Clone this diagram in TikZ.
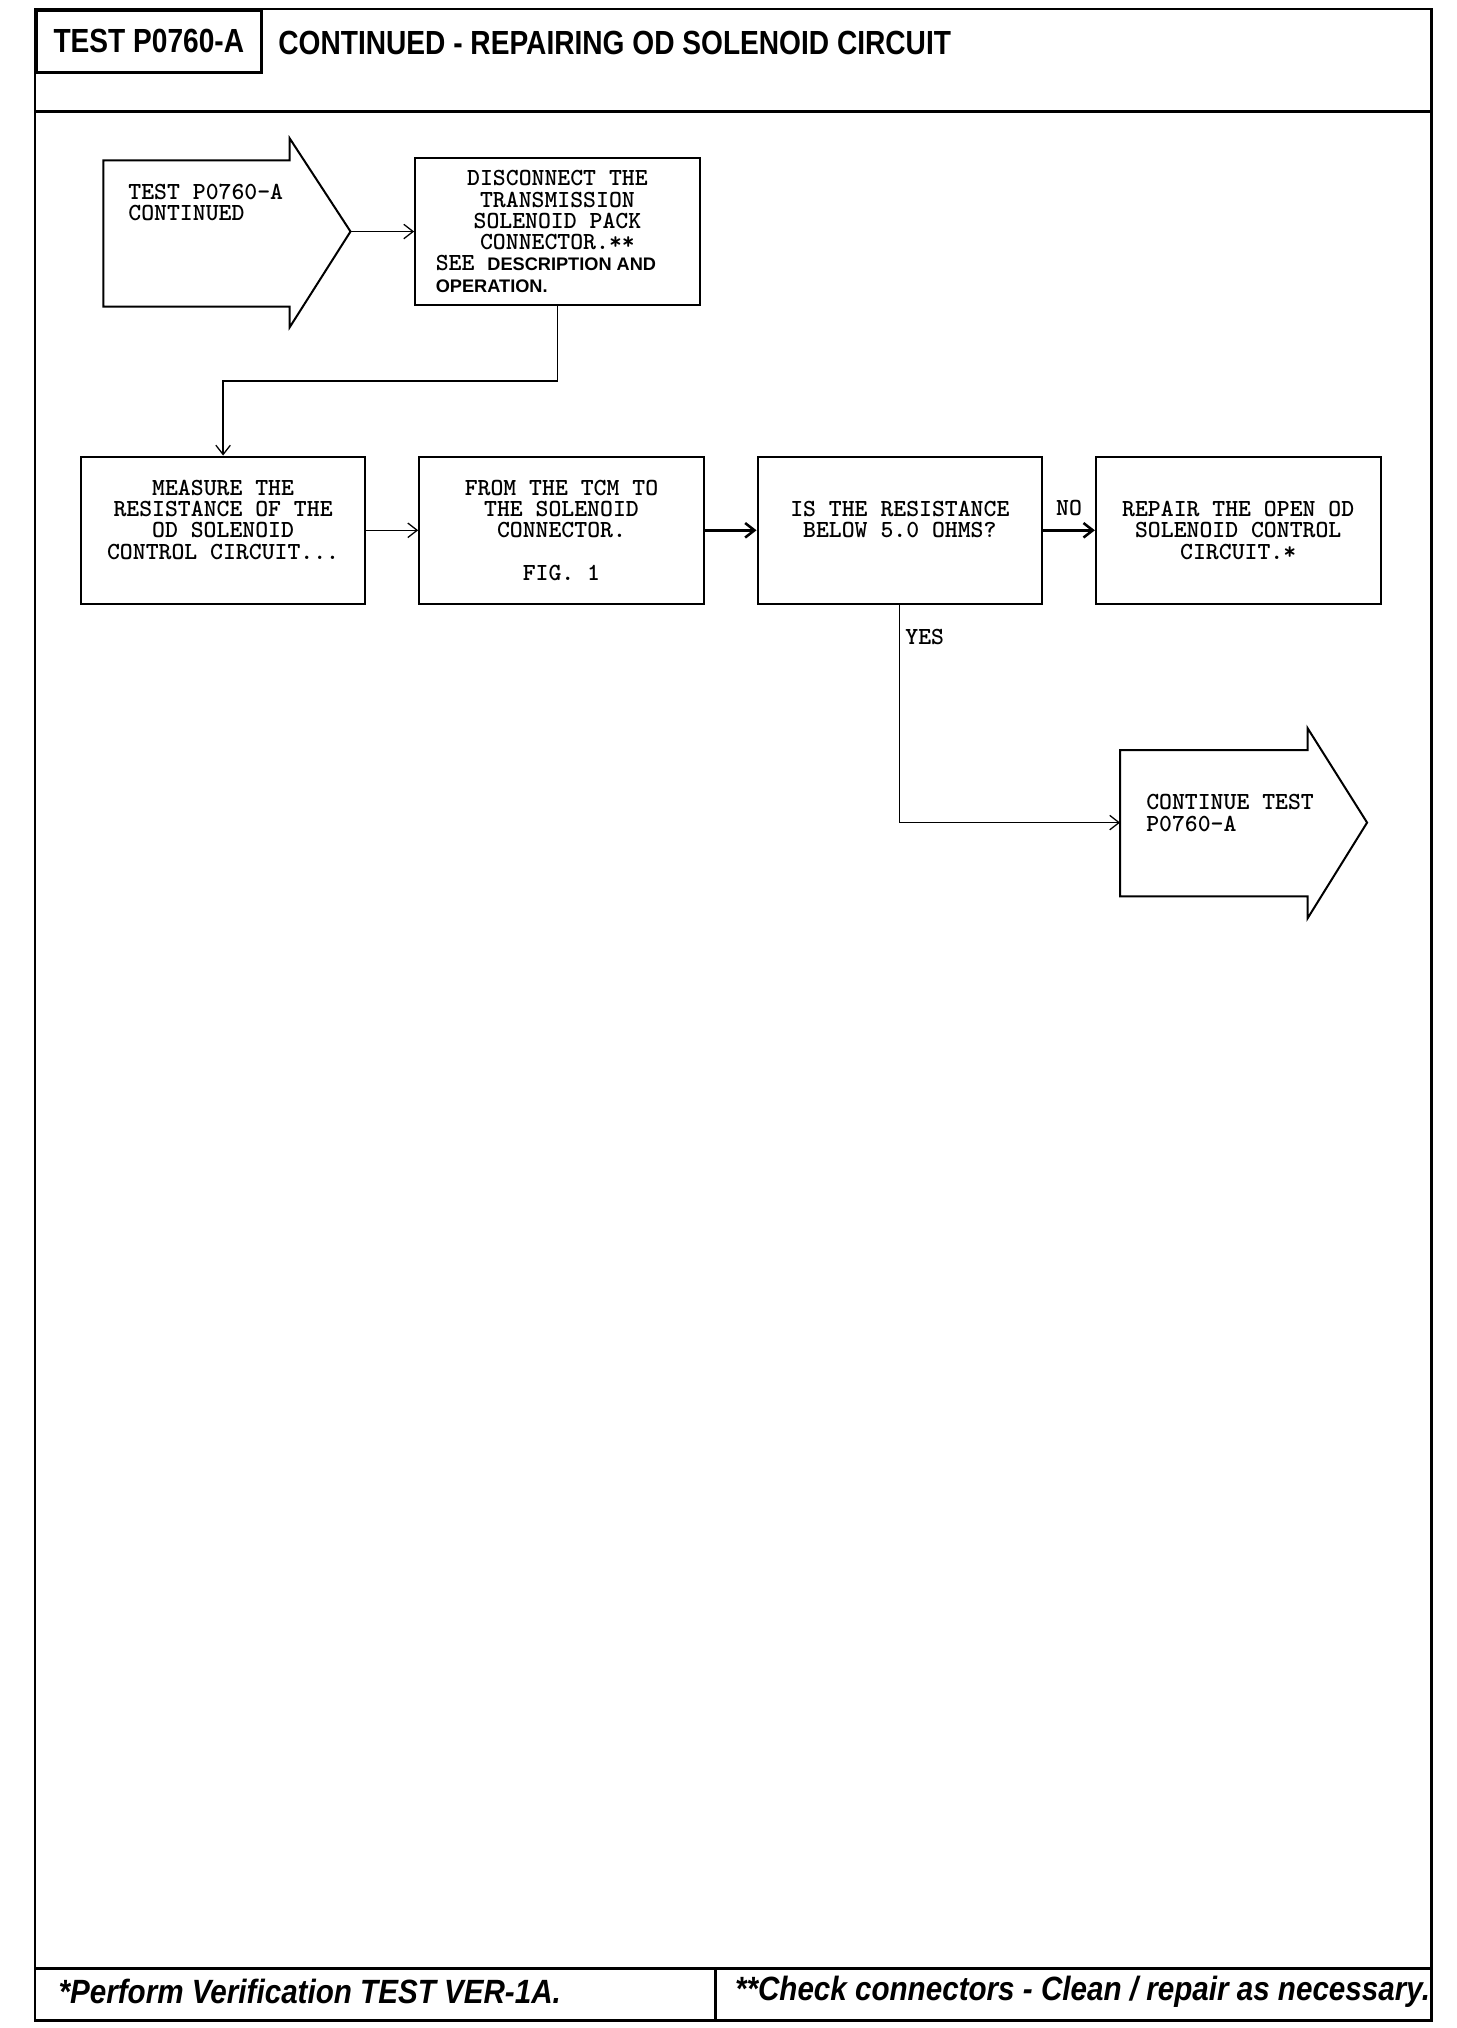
\documentclass[tikz,border=0pt]{standalone}
\usepackage{fontspec}
\newfontfamily\headfont[FakeStretch=0.84]{Liberation Sans}
\newfontfamily\footfont[FakeStretch=0.88]{Liberation Sans}
\newfontfamily\notefont{Liberation Sans}
\usepackage{tikz}
\usetikzlibrary{arrows.meta, positioning, calc}
\usepackage{xcolor}
\definecolor{ChartBlack}{HTML}{000000}
\definecolor{ChartWhite}{HTML}{ffffff}
\tikzset{
    % Page frame lines
    frame/.style={
        draw=ChartBlack,
        line width=1.5pt
    },
    % Title box style
    titlebox/.style={
        rectangle,
        draw=ChartBlack,
        line width=1.5pt,
        inner sep=0pt,
        font=\headfont\bfseries\fontsize{18.4}{20}\selectfont
    },
    % Heading text
    heading/.style={
        inner sep=0pt,
        font=\headfont\bfseries\fontsize{18.4}{20}\selectfont
    },
    % Footer note text
    footnote/.style={
        inner sep=0pt,
        font=\footfont\bfseries\itshape\fontsize{18.5}{20}\selectfont
    },
    % Step box style
    stepbox/.style={
        rectangle,
        draw=ChartBlack,
        fill=ChartWhite,
        line width=1.1pt,
        minimum width=5.5cm,
        minimum height=2.85cm,
        inner sep=0pt,
        align=center,
        font=\ttfamily\bfseries\fontsize{13.5}{11.7}\selectfont
    },
    % Arrow shaped start/continue outline
    arrowshape/.style={
        draw=ChartBlack,
        line width=1.1pt,
        line join=miter
    },
    % Plain text in arrow shapes
    steptext/.style={
        inner sep=0pt,
        align=left,
        font=\ttfamily\bfseries\fontsize{13.5}{11.7}\selectfont
    },
    % Yes/No labels
    answer/.style={
        inner sep=0pt,
        font=\ttfamily\bfseries\fontsize{13.5}{11.7}\selectfont
    },
    % Arrow style
    arrow/.style={
        -{Straight Barb[length=1.8mm,width=2.8mm]},
        line width=0.7pt,
        color=ChartBlack
    },
    % Heavier arrow
    heavyarrow/.style={
        arrow,
        line width=1.4pt
    }
}
\newcommand{\sansnote}{\notefont\bfseries\fontsize{10}{11.7}\selectfont}

\begin{document}
\begin{tikzpicture}[x=0.025cm, y=-0.025cm, node distance=1cm]
    \useasboundingbox (0,0) rectangle (1126,1568);

    % Page frame
    \draw [frame] (27,7) rectangle (1107,1562);
    \draw [frame] (27,86) -- (1107,86);
    \draw [frame] (27,1522) -- (1107,1522);
    \draw [frame] (553,1522) -- (553,1562);

    % Header
    \node (testid) [titlebox, anchor=north west, minimum width=4.35cm, minimum height=1.2cm] at (27,7) {TEST P0760-A};
    \node (title) [heading, anchor=west] at (215,33) {CONTINUED - REPAIRING OD SOLENOID CIRCUIT};

    % Start arrow
    \draw [arrowshape] (80,124) -- (224,124) -- (224,107) -- (271,179)
        -- (224,253) -- (224,237) -- (80,237) -- cycle;
    \coordinate (start tip) at (271,179);
    \node (start) [steptext, anchor=north west] at (99,142) {TEST P0760-A\\CONTINUED};

    % Steps
    \node (disc) [stepbox] at (431,179) {DISCONNECT THE\\TRANSMISSION\\SOLENOID PACK\\CONNECTOR.**\\
        \makebox[4.7cm][l]{SEE \sansnote DESCRIPTION AND}\\
        \makebox[4.7cm][l]{\sansnote OPERATION.}};
    \node (measure) [stepbox] at (172.5,410) {MEASURE THE\\RESISTANCE OF THE\\OD SOLENOID\\CONTROL CIRCUIT...\\~};
    \node (tcm) [stepbox, right=of measure] {FROM THE TCM TO\\THE SOLENOID\\CONNECTOR.\\[11.7pt]FIG. 1};
    \node (check) [stepbox, right=of tcm] {IS THE RESISTANCE\\BELOW 5.0 OHMS?\\~};
    \node (repair) [stepbox, right=of check] {REPAIR THE OPEN OD\\SOLENOID CONTROL\\CIRCUIT.*};

    % Continue arrow
    \draw [arrowshape] (866,580) -- (1011,580) -- (1011,563) -- (1057,636)
        -- (1011,710) -- (1011,693) -- (866,693) -- cycle;
    \coordinate (cont in) at (866,636);
    \node (cont) [steptext, anchor=north west] at (886,614) {CONTINUE TEST\\P0760-A};

    % Connectors
    \draw [arrow] (start tip) -- (disc.west);
    \draw [arrow] (disc.south) |- ($(disc.south)!0.5!(measure.north)$) -| (measure.north);
    \draw [arrow] (measure) -- (tcm);
    \draw [heavyarrow] (tcm) -- (check);
    \draw [heavyarrow] (check) -- node [answer, above=0.25cm] (no) {NO} (repair);
    \draw [arrow] (check.south) |- (cont in);
    \node (yes) [answer, anchor=west] at ($(check.south)+(4,25)$) {YES};

    % Footer notes
    \node (note1) [footnote, anchor=west] at (45,1540) {*Perform Verification TEST VER-1A.};
    \node (note2) [footnote, anchor=west] at (568,1540) {**Check connectors - Clean / repair as necessary.};
\end{tikzpicture}
\end{document}
